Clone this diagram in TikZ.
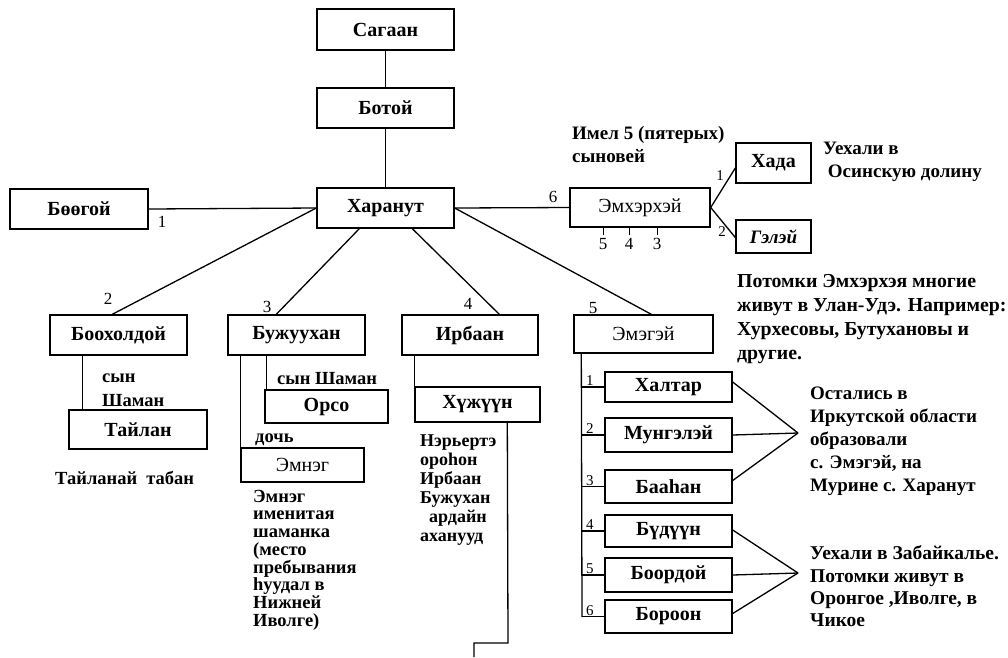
\documentclass[tikz,border=0pt]{standalone}
\usepackage{fontspec}
\setmainfont{Liberation Serif}
\usetikzlibrary{calc}
\begin{document}
\begin{tikzpicture}[x=1pt,y=-1pt,
  box/.style={draw, line width=1.4pt, inner sep=0pt, font=\fontsize{20}{22}\selectfont\bfseries},
  rbox/.style={box, font=\fontsize{20}{22}\selectfont},
  ln/.style={line width=1.3pt},
  num/.style={font=\fontsize{17}{17}\selectfont, inner sep=0pt},
  snum/.style={font=\fontsize{15}{15}\selectfont, inner sep=0pt},
  note/.style={font=\fontsize{19}{23}\selectfont\bfseries, align=left, inner sep=0pt, anchor=west},
]
\useasboundingbox (0,0) rectangle (1008,657);
% main chain
\node[box, minimum width=137pt, minimum height=41pt] (sagaan) at (385.5,29.5) {Сагаан};
\node[box, minimum width=137pt, minimum height=40pt] (botoi) at (385.5,108) {Ботой};
\node[box, minimum width=137pt, minimum height=40pt] (kharanut) at (385.5,208) {Харанут};
\node[box, minimum width=138pt, minimum height=40pt] (boogoi) at (79,209) {Бөөгой};
\node[rbox, minimum width=140pt, minimum height=39pt] (emkh) at (640,207.5) {Эмхэрхэй};
\node[box, minimum width=75pt, minimum height=40pt] (khada) at (773.5,163) {Хада};
\node[box, minimum width=75pt, minimum height=33pt, font=\fontsize{19}{20}\selectfont\bfseries\itshape] (gelei) at (773.5,236.5) {Гэлэй};
% second row
\node[box, minimum width=137pt, minimum height=40pt] (bookh) at (118.5,335) {Боохолдой};
\node[box, minimum width=138pt, minimum height=39pt] (tailan) at (138,429.5) {Тайлан};
\node[box, minimum width=137pt, minimum height=40pt] (buzh) at (296.5,335) {Бужуухан};
\node[box, minimum width=123pt, minimum height=33pt] (orso) at (326.5,406.5) {Орсо};
\node[rbox, minimum width=123pt, minimum height=34pt] (emneg) at (302.5,465) {Эмнэг};
\node[box, minimum width=136pt, minimum height=40pt] (irbaan) at (470,335) {Ирбаан};
\node[box, minimum width=125pt, minimum height=35pt] (khuzh) at (477.5,404.5) {Хүжүүн};
\node[rbox, minimum width=139pt, minimum height=38pt] (emegei) at (643.5,334) {Эмэгэй};
% Emegei children
\node[box, minimum width=127pt, minimum height=30pt] (c1) at (668.5,387) {Халтар};
\node[box, minimum width=127pt, minimum height=34pt] (c2) at (668.5,435) {Мунгэлэй};
\node[box, minimum width=127pt, minimum height=33pt] (c3) at (668.5,486.5) {Бааһан};
\node[box, minimum width=127pt, minimum height=32pt] (c4) at (668.5,531) {Бүдүүн};
\node[box, minimum width=127pt, minimum height=34pt] (c5) at (668.5,575) {Боордой};
\node[box, minimum width=127pt, minimum height=33pt] (c6) at (668.5,616.5) {Бороон};
% connectors main
\draw[ln] (sagaan) -- (botoi);
\draw[ln] (botoi) -- (kharanut);
\draw[ln] (boogoi.east) -- (kharanut.west);
\node[num] (n1) at (162,222) {1};
\draw[ln] (kharanut.west) -- ($(bookh.north west)+(63,0)$);
\node[num] (n2) at (108,299) {2};
\draw[ln] ($(kharanut.south west)+(43,0)$) -- ($(buzh.north west)+(49,0)$);
\node[num] (n3) at (267,307) {3};
\draw[ln] ($(kharanut.south west)+(96,0)$) -- ($(irbaan.north west)+(98,0)$);
\node[num] (n4) at (468,304) {4};
\draw[ln] (kharanut.east) -- ($(emegei.north west)+(78,0)$);
\node[num] (n5) at (593,308) {5};
\draw[ln] (kharanut.east) -- (emkh.west);
\node[num] (n6) at (553,197) {6};
% Emkherkhei
\draw[ln] (emkh.east) -- ($(khada.west)+(0,5)$);
\node[snum] (e1) at (720,176) {1};
\draw[ln] (emkh.east) -- ($(gelei.west)+(0,1)$);
\node[snum] (e2) at (722,232) {2};
\foreach \x/\t in {603/5,629/4,657/3} {
  \draw[line width=1pt] (\x,227) -- (\x,235);
  \node[num] (t\t) at (\x,244) {\t};
}
% Bookholdoi -> Tailan
\draw[ln] ($(bookh.south west)+(33,0)$) -- ($(tailan.north west)+(14,0)$);
\node[font=\fontsize{18.5}{24}\selectfont\bfseries, align=left, inner sep=0pt, anchor=west] (syn1) at (102,390) {сын\\Шаман};
\node[note, font=\fontsize{18.5}{23}\selectfont\bfseries] (tabn) at (55,478) {Тайланай~~табан};
% Buzhuukhan
\draw[ln] (buzh.south west -| emneg.west) -- (emneg.south west);
\draw[ln] ($(buzh.south west)+(39,0)$) -- ($(orso.north west)+(2,0)$);
\node[note, font=\fontsize{18.5}{23}\selectfont\bfseries] (syn2) at (277,379) {сын Шаман};
\node[note, font=\fontsize{18.5}{23}\selectfont\bfseries] (doch) at (255,440) {дочь};
\node[font=\fontsize{18.5}{17.7}\selectfont\bfseries, align=left, inner sep=0pt, anchor=west] (emtxt) at (253,560) {Эмнэг\\именитая\\шаманка\\(место\\пребывания\\һуудал в\\Нижней\\Иволге)};
% Irbaan
\draw[ln] (irbaan.south west -| khuzh.west) -- (khuzh.north west);
\coordinate (k1) at (508,643);
\coordinate (k2) at (474,643);
\coordinate (k3) at (474,657);
\draw[ln] ($(khuzh.south west)+(93,0)$) -- (k1) -- (k2) -- (k3);
\node[font=\fontsize{18}{19}\selectfont\bfseries, align=left, inner sep=0pt, anchor=west] (irtxt) at (420,490.5) {Нэрьертэ\\ороһон\\Ирбаан\\Бужухан\\\ \ ардайн\\аханууд};
% Emegei
\coordinate (ev) at (582,617);
\draw[ln] ($(emegei.south west)+(8,0)$) -- (ev);
\foreach \i in {1,...,6} {
  \draw[ln] (c\i.west -| ev) -- (c\i.west);
  \node[snum, anchor=south west] (m\i) at ($(c\i.west -| ev)+(4,-1)$) {\i};
}
\coordinate (j1) at (798,433);
\coordinate (j2) at (798,573);
\draw[ln] ($(c1.east)+(0,-5)$) -- (j1);
\draw[ln] (c2.east) -- (j1);
\draw[ln] ($(c3.east)+(0,-6)$) -- (j1);
\draw[ln] ($(c4.east)+(0,-1)$) -- (j2);
\draw[ln] (c5.east) -- (j2);
\draw[ln] ($(c6.east)+(0,-3)$) -- (j2);
% notes
\node[note] (imel) at (572,144) {Имел 5 (пятерых)\\сыновей};
\node[note] (uekh1) at (823,162) {Уехали в\\\ Осинскую долину};
\node[note, font=\fontsize{19.8}{24}\selectfont\bfseries] (potomki) at (737,319) {Потомки Эмхэрхэя многие\\живут в Улан-Удэ. Например:\\Хурхесовы, Бутухановы и\\другие.};
\node[note] (ostal) at (810,441.5) {Остались в\\Иркутской области\\образовали\\с. Эмэгэй, на\\Мурине с. Харанут};
\node[note, font=\fontsize{19.5}{22.3}\selectfont\bfseries] (uekh2) at (810,586.5) {Уехали в Забайкалье.\\Потомки живут в\\Оронгое ,Иволге, в\\Чикое};
\end{tikzpicture}
\end{document}
